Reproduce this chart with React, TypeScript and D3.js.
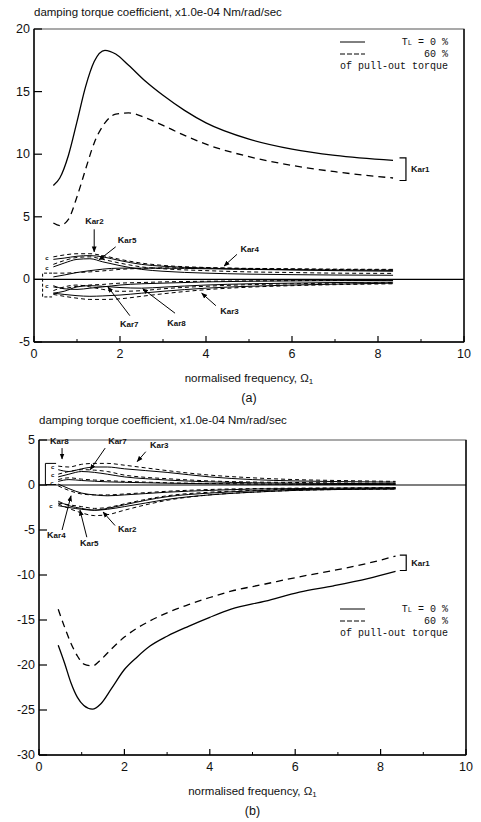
import * as d3 from "d3";

// omega grid shared by the small coefficient curves
const wSmall = [0.45, 0.7, 1.0, 1.3, 1.6, 2.0, 2.5, 3, 4, 5, 6, 7, 8.35];

// (a) Kar1
const wK1A = [0.45, 0.6, 0.8, 1.0, 1.2, 1.4, 1.65, 1.9, 2.2, 2.6, 3.0, 3.5, 4.0, 5.0, 6.0, 7.0, 8.35];
const kar1A_s = [7.5, 8.1, 9.9, 12.6, 15.4, 17.4, 18.3, 18.0, 17.1, 15.8, 14.7, 13.5, 12.5, 11.2, 10.4, 9.9, 9.5];
const kar1A_d = [4.5, 4.3, 4.8, 6.6, 8.8, 10.9, 12.5, 13.2, 13.3, 12.9, 12.3, 11.5, 10.8, 9.8, 9.1, 8.6, 8.1];

// (a) small ones
const kar2A_s = [1.6, 1.7, 1.85, 1.9, 1.8, 1.5, 1.2, 1.05, 0.9, 0.82, 0.78, 0.75, 0.72];
const kar2A_d = [1.8, 1.95, 2.05, 2.05, 1.9, 1.6, 1.3, 1.12, 0.95, 0.86, 0.82, 0.79, 0.76];
const kar5A_s = [1.0, 1.3, 1.6, 1.65, 1.4, 1.1, 0.8, 0.65, 0.5, 0.42, 0.38, 0.35, 0.33];
const kar5A_d = [1.2, 1.5, 1.75, 1.8, 1.6, 1.3, 1.0, 0.85, 0.7, 0.6, 0.55, 0.5, 0.48];
const kar4A_s = [0.2, 0.35, 0.55, 0.7, 0.82, 0.9, 0.9, 0.9, 0.85, 0.8, 0.75, 0.7, 0.65];
const kar4A_d = [0.5, 0.5, 0.55, 0.6, 0.68, 0.8, 0.88, 0.92, 0.92, 0.88, 0.85, 0.82, 0.8];
const kar7A_s = [-0.5, -0.75, -0.8, -0.7, -0.6, -0.45, -0.35, -0.3, -0.2, -0.15, -0.12, -0.1, -0.08];
const kar7A_d = [-0.6, -0.7, -0.55, -0.45, -0.4, -0.3, -0.25, -0.2, -0.15, -0.12, -0.1, -0.08, -0.06];
const kar8A_s = [-1.1, -0.95, -0.6, -0.5, -0.55, -0.65, -0.7, -0.62, -0.45, -0.35, -0.3, -0.25, -0.22];
const kar8A_d = [-0.9, -0.6, -0.45, -0.6, -0.8, -0.95, -0.9, -0.75, -0.55, -0.42, -0.35, -0.3, -0.26];
const kar3A_s = [-1.1, -1.2, -1.3, -1.35, -1.32, -1.25, -1.1, -0.95, -0.7, -0.55, -0.45, -0.38, -0.3];
const kar3A_d = [-1.2, -1.35, -1.5, -1.6, -1.6, -1.55, -1.35, -1.15, -0.82, -0.62, -0.5, -0.42, -0.35];

// (b) Kar1
const wK1B = [0.45, 0.6, 0.75, 0.9, 1.05, 1.25, 1.45, 1.7, 2.0, 2.3, 2.6, 3.0, 3.5, 4.0, 4.5, 5.3, 6.1, 6.9, 7.7, 8.35];
const kar1B_s = [-17.8, -19.8, -22.0, -23.6, -24.5, -24.9, -24.3, -22.6, -20.5, -19.1, -17.9, -16.8, -15.7, -14.7, -13.8, -12.9, -11.9, -11.2, -10.4, -9.6];
const kar1B_d = [-13.8, -15.8, -17.6, -19.0, -19.9, -20.1, -19.4, -18.2, -16.9, -15.9, -15.1, -14.2, -13.3, -12.5, -11.8, -11.0, -10.2, -9.5, -8.7, -7.9];

// (b) small ones
const kar3B_s = [1.7, 1.5, 1.8, 2.0, 2.0, 1.8, 1.6, 1.4, 0.9, 0.6, 0.45, 0.38, 0.32];
const kar3B_d = [2.1, 2.0, 2.3, 2.4, 2.4, 2.2, 1.9, 1.6, 1.1, 0.8, 0.6, 0.5, 0.4];
const kar7B_s = [0.9, 1.2, 1.5, 1.4, 1.2, 0.9, 0.7, 0.55, 0.35, 0.25, 0.2, 0.17, 0.15];
const kar7B_d = [1.2, 1.5, 1.7, 1.65, 1.5, 1.1, 0.85, 0.7, 0.45, 0.33, 0.28, 0.23, 0.2];
const kar8B_s = [0.4, 0.6, 0.5, 0.42, 0.35, 0.3, 0.25, 0.2, 0.14, 0.1, 0.08, 0.06, 0.05];
const kar8B_d = [0.6, 0.8, 0.65, 0.55, 0.48, 0.4, 0.32, 0.25, 0.17, 0.12, 0.1, 0.09, 0.08];
const kar4B_s = [0.1, -0.4, -0.9, -1.1, -1.2, -1.1, -0.95, -0.8, -0.6, -0.45, -0.4, -0.35, -0.3];
const kar4B_d = [-0.1, -0.6, -1.0, -1.1, -1.1, -1.0, -0.85, -0.7, -0.5, -0.4, -0.35, -0.32, -0.3];
const kar5B_s = [-2.3, -2.5, -2.7, -2.8, -2.6, -2.2, -1.7, -1.3, -0.9, -0.65, -0.5, -0.45, -0.4];
const kar5B_d = [-2.0, -2.2, -2.4, -2.6, -2.5, -2.1, -1.6, -1.2, -0.8, -0.6, -0.45, -0.4, -0.35];
const kar2B_s = [-1.8, -2.3, -2.6, -2.8, -2.7, -2.4, -2.0, -1.6, -1.1, -0.8, -0.6, -0.5, -0.45];
const kar2B_d = [-2.1, -2.6, -3.1, -3.4, -3.3, -2.8, -2.2, -1.7, -1.1, -0.8, -0.6, -0.5, -0.45];

const xTicks = [0, 2, 4, 6, 8, 10];
const xMinorTicks = [1, 3, 5, 7, 9];
const yTicksA = [-5, 0, 5, 10, 15, 20];
const yTicksB = [-30, -25, -20, -15, -10, -5, 0, 5];

const titleText = "damping torque coefficient, x1.0e-04 Nm/rad/sec";

// label text, label position, arrow start, arrow tip (data units)
const notesA = [
  { t: "2", at: [1.19, 4.4], from: [1.4, 4.0], to: [1.4, 2.2] },
  { t: "5", at: [1.95, 2.9], from: [1.9, 2.6], to: [1.51, 1.55] },
  { t: "4", at: [4.8, 2.2], from: [4.72, 2.0], to: [4.42, 1.07] },
  { t: "3", at: [4.33, -2.75], from: [4.23, -2.1], to: [3.9, -1.1] },
  { t: "8", at: [3.1, -3.7], from: [3.28, -2.7], to: [2.53, -0.75] },
  { t: "7", at: [2.0, -3.8], from: [2.23, -2.9], to: [1.72, -0.6] },
];
const notesB = [
  { t: "8", at: [0.26, 4.55], from: [0.54, 4.1], to: [0.54, 2.9] },
  { t: "7", at: [1.62, 4.55], from: [1.55, 4.1], to: [1.2, 1.7] },
  { t: "3", at: [2.6, 4.1], from: [2.5, 3.7], to: [2.3, 2.6] },
  { t: "4", at: [0.19, -5.9], from: [0.54, -5.0], to: [0.75, -1.2] },
  { t: "5", at: [0.96, -6.8], from: [1.12, -5.8], to: [0.96, -2.8] },
  { t: "2", at: [1.85, -5.2], from: [1.78, -4.5], to: [1.5, -3.0] },
];

// little "c" marks and start brackets near omega = 0.3
const cMarksA = [[0.3, 1.7], [0.3, 0.95], [0.3, -0.55]];
const cMarksB = [[0.32, 2.0], [0.32, 1.1], [0.3, 0.2], [0.28, -2.3]];
const startBracketA = { x0: 0.2, x1: 0.42, y0: 0.5, y1: -1.4, dashed: true };
const startBracketB = { x0: 0.15, x1: 0.4, y0: 2.4, y1: 0.05, dashed: false };

const sans = "'Liberation Sans', Arial, sans-serif";
const mono = "'Liberation Mono', 'DejaVu Sans Mono', monospace";

type Series = { xs: number[]; ys: number[]; dashed: boolean };

const Panel = ({ top, bottom, left, right, yDomain, yTicks, big, small, notes, bracket, startBracket, cMarks, legendTop, label, titleY }) => {
  const x = d3.scaleLinear().domain([0, 10]).range([left, right]);
  const y = d3.scaleLinear().domain(yDomain).range([bottom, top]);
  const line = d3.line<[number, number]>()
    .x(d => x(d[0]))
    .y(d => y(d[1]))
    .curve(d3.curveMonotoneX);

  const path = (s: Series) => line(s.xs.map((v, i) => [v, s.ys[i]] as [number, number]));

  const legendX = 340;
  return (
    <g>
      <text x={left} y={titleY} fontFamily={sans} fontSize={11.5} fill="#111">{titleText}</text>
      {/* frame */}
      <rect x={left} y={top} width={right - left} height={bottom - top} fill="none" stroke="#555" strokeWidth={1} />
      <line x1={left} x2={left} y1={top} y2={bottom} stroke="#000" strokeWidth={1.4} />
      <line x1={left} x2={right} y1={bottom} y2={bottom} stroke="#000" strokeWidth={1.4} />
      <line x1={right} x2={right} y1={top} y2={bottom} stroke="#111" strokeWidth={1.5} />
      {/* zero line */}
      <line x1={left} x2={right} y1={y(0)} y2={y(0)} stroke="#000" strokeWidth={1.2} />
      {yTicks.map(t => (
        <g key={t}>
          <line x1={left} x2={left + 8} y1={y(t)} y2={y(t)} stroke="#000" strokeWidth={1.2} />
          <text x={left - 4} y={y(t) + 4} textAnchor="end" fontFamily={sans} fontSize={12.5} fill="#111">{t}</text>
        </g>
      ))}
      {xTicks.map(t => (
        <g key={t}>
          <line x1={x(t)} x2={x(t)} y1={bottom} y2={bottom - 6} stroke="#000" strokeWidth={1.2} />
          <text x={x(t)} y={bottom + 16} textAnchor="middle" fontFamily={sans} fontSize={12.5} fill="#111">{t}</text>
        </g>
      ))}
      {xMinorTicks.map(t => (
        <line key={t} x1={x(t)} x2={x(t)} y1={bottom} y2={bottom - 3} stroke="#000" />
      ))}
      {big.map((s, i) => (
        <path key={"b" + i} d={path(s)} fill="none" stroke="#000" strokeWidth={1.3}
          strokeDasharray={s.dashed ? "7,5" : undefined} />
      ))}
      {small.map((s, i) => (
        <path key={"s" + i} d={path(s)} fill="none" stroke="#000" strokeWidth={1}
          strokeDasharray={s.dashed ? "4,3" : undefined} />
      ))}
      {/* start bracket and c marks */}
      <path d={`M${x(startBracket.x1)},${y(startBracket.y0)} H${x(startBracket.x0)} V${y(startBracket.y1)} H${x(startBracket.x1)}`}
        fill="none" stroke="#000" strokeWidth={1} strokeDasharray={startBracket.dashed ? "3,2" : undefined} />
      {cMarks.map((c, i) => (
        <text key={"c" + i} x={x(c[0])} y={y(c[1]) + 2} textAnchor="middle" fontFamily={sans} fontSize={6} fontWeight="bold" fill="#111">c</text>
      ))}
      {notes.map((n, i) => (
        <g key={"n" + i}>
          <line x1={x(n.from[0])} y1={y(n.from[1])} x2={x(n.to[0])} y2={y(n.to[1])}
            stroke="#000" strokeWidth={1} markerEnd="url(#arrow)" />
          <text x={x(n.at[0])} y={y(n.at[1])} fontFamily={sans} fontSize={9} fontWeight="bold" fill="#111">
            K<tspan fontSize={8}>ar{n.t}</tspan>
          </text>
        </g>
      ))}
      {/* Kar1 bracket */}
      <path d={`M${x(bracket.x0)},${y(bracket.y0)} H${x(bracket.x1)} V${y(bracket.y1)} H${x(bracket.x0)}`}
        fill="none" stroke="#000" strokeWidth={1.2} />
      <text x={x(bracket.x1) + 5} y={(y(bracket.y0) + y(bracket.y1)) / 2 + 3} fontFamily={sans} fontSize={9} fontWeight="bold" fill="#111">
        K<tspan fontSize={8}>ar1</tspan>
      </text>
      {/* legend */}
      <g fontFamily={mono} fontSize={10} fill="#111">
        <line x1={legendX} x2={legendX + 25} y1={legendTop} y2={legendTop} stroke="#000" strokeWidth={1} />
        <text x={legendX + 108} y={legendTop + 3} textAnchor="end">T<tspan fontSize={7}>L</tspan> =  0 %</text>
        <line x1={legendX} x2={legendX + 25} y1={legendTop + 12} y2={legendTop + 12} stroke="#000" strokeWidth={1} strokeDasharray="5,2" />
        <text x={legendX + 108} y={legendTop + 15} textAnchor="end">60 %</text>
        <text x={legendX} y={legendTop + 27}>of pull-out torque</text>
      </g>
      <text x={(left + right) / 2} y={bottom + 40} textAnchor="middle" fontFamily={sans} fontSize={11.5} fill="#111">
        normalised frequency,  Ω<tspan fontSize={8} dy={2}>1</tspan>
      </text>
      <text x={(left + right) / 2} y={bottom + 60} textAnchor="middle" fontFamily={sans} fontSize={12.5} fill="#111">{label}</text>
    </g>
  );
};

const pair = (xs: number[], s: number[], d: number[]): Series[] => [
  { xs, ys: s, dashed: false },
  { xs, ys: d, dashed: true },
];

export default function App() {
  const bigA = pair(wK1A, kar1A_s, kar1A_d);
  const smallA = [
    ...pair(wSmall, kar2A_s, kar2A_d),
    ...pair(wSmall, kar5A_s, kar5A_d),
    ...pair(wSmall, kar4A_s, kar4A_d),
    ...pair(wSmall, kar7A_s, kar7A_d),
    ...pair(wSmall, kar8A_s, kar8A_d),
    ...pair(wSmall, kar3A_s, kar3A_d),
  ];
  const bigB = pair(wK1B, kar1B_s, kar1B_d);
  const smallB = [
    ...pair(wSmall, kar3B_s, kar3B_d),
    ...pair(wSmall, kar7B_s, kar7B_d),
    ...pair(wSmall, kar8B_s, kar8B_d),
    ...pair(wSmall, kar4B_s, kar4B_d),
    ...pair(wSmall, kar5B_s, kar5B_d),
    ...pair(wSmall, kar2B_s, kar2B_d),
  ];
  return (
    <svg width={481} height={822} style={{ position: "absolute", left: 0, top: 0, background: "#fff" }}>
      <defs>
        <marker id="arrow" viewBox="0 0 10 10" refX={9} refY={5} markerWidth={6} markerHeight={6} orient="auto">
          <path d="M0,1 L10,5 L0,9 z" fill="#000" />
        </marker>
      </defs>
      <Panel top={29} bottom={342} left={34} right={464} yDomain={[-5, 20]} yTicks={yTicksA}
        big={bigA} small={smallA} notes={notesA}
        bracket={{ x0: 8.5, x1: 8.65, y0: 9.7, y1: 7.9 }} startBracket={startBracketA} cMarks={cMarksA}
        legendTop={42} label="(a)" titleY={16} />
      <Panel top={440} bottom={755} left={39} right={466} yDomain={[-30, 5]} yTicks={yTicksB}
        big={bigB} small={smallB} notes={notesB}
        bracket={{ x0: 8.45, x1: 8.6, y0: -7.8, y1: -9.5 }} startBracket={startBracketB} cMarks={cMarksB}
        legendTop={609} label="(b)" titleY={424} />
    </svg>
  );
}
